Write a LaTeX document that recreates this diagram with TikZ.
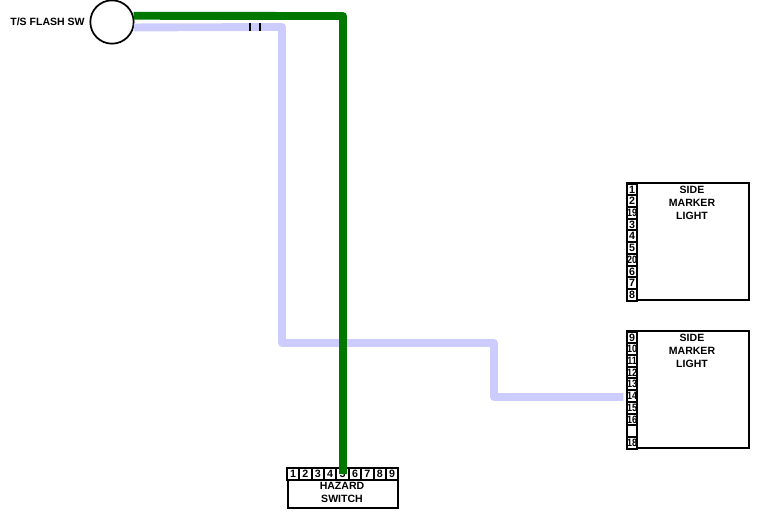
\documentclass[tikz,border=0pt]{standalone}
\usepackage{fontspec}
\setmainfont{Liberation Sans}
\definecolor{wiregreen}{RGB}{0,120,0}
\definecolor{wirelav}{RGB}{204,204,255}
\newcommand{\nar}[1]{\scalebox{.84}[1]{#1}}
\tikzset{
  pinbox/.style={draw,line width=1.4pt,fill=white,inner sep=0pt,minimum width=7.5pt,minimum height=8.7pt,font=\bfseries\fontsize{8}{8}\selectfont},
  devbox/.style={draw,line width=1.5pt,fill=white,inner sep=0pt},
  devtext/.style={align=center,inner sep=0pt,font=\bfseries\fontsize{7.9}{9.75}\selectfont},
  wire/.style={line width=5.9pt,line join=round}
}
\begin{document}
\begin{tikzpicture}[x=0.75pt,y=-0.75pt]
\useasboundingbox (0,0) rectangle (762,514);

% side marker boxes
\node[devbox,minimum width=91.5pt,minimum height=87.75pt] (upper) at (688,241.5) {};
\node[devbox,minimum width=91.5pt,minimum height=87.75pt] (lower) at (688,389.5) {};
\node[devtext,anchor=north] (uppertext) at (692,186) {SIDE\\MARKER\\LIGHT};
\node[devtext,anchor=north] (lowertext) at (692,334) {SIDE\\MARKER\\LIGHT};

\foreach \lbl [count=\i] in {1,2,\nar{19},3,4,5,\nar{20},6,7,8}
  \node[pinbox] (upin\i) at (632,{189.5+(\i-1)*11.7}) {\lbl};

\foreach \lbl [count=\i] in {9,\nar{10},\nar{11},\nar{12},\nar{13},\nar{14},\nar{15},\nar{16},,\nar{18}}
  \node[pinbox] (lpin\i) at (632,{337.5+(\i-1)*11.7}) {\lbl};

% hazard switch
\node[devbox,minimum width=82.5pt,minimum height=21pt] (hazard) at (342.5,494) {};
\node[devtext,anchor=north] (hazardtext) at (342,482) {HAZARD\\SWITCH};
\foreach \i in {1,...,9}
  \node[pinbox,minimum width=9.2pt,minimum height=8.7pt] (hpin\i) at ({293+(\i-1)*12.4},474) {\i};

% flash switch
\node[draw,circle,line width=1.3pt,minimum size=32.5pt,inner sep=0pt] (flash) at (112,22) {};
\node[font=\bfseries\fontsize{7.9}{7.9}\selectfont,inner sep=0pt] (flashlabel) at (47.5,22) {T/S FLASH SW};

% wires
\coordinate (lav1) at (282,27);
\coordinate (lav2) at (282,343);
\coordinate (lav3) at (494,343);
\coordinate (lav4) at (494,397);
\coordinate (grn1) at (343,16);
\draw[wire,wirelav] (flash.-14) -- (lav1) -- (lav2) -- (lav3) -- (lav4) -- ([xshift=-2pt]lav4 -| lpin6.west);
\draw[wire,wiregreen] (flash.16) -- (grn1) -- (grn1 |- hpin5.center);

% ticks on the lavender wire
\coordinate (tick1) at (250,27);
\coordinate (tick2) at (260,27);
\draw[line width=1.1pt] ([yshift=2.7pt]tick1) -- ([yshift=-2.7pt]tick1);
\draw[line width=1.1pt] ([yshift=2.7pt]tick2) -- ([yshift=-2.7pt]tick2);

\end{tikzpicture}
\end{document}
